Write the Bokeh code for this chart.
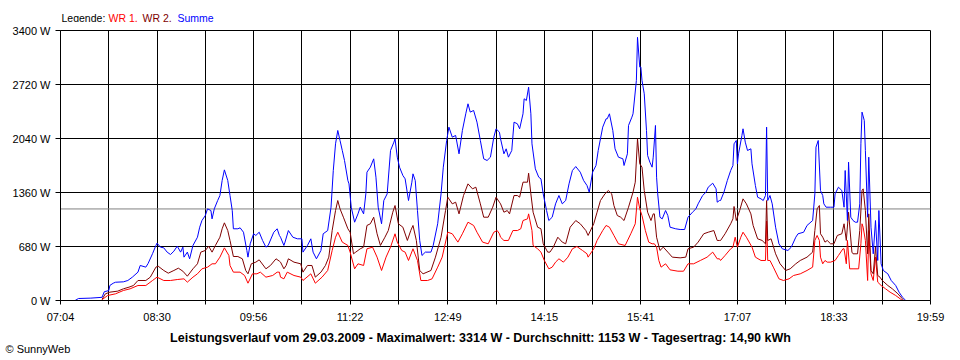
from bokeh.plotting import figure
from bokeh.layouts import column
from bokeh.models import FixedTicker, CustomJSTickFormatter, Span, Label, ColumnDataSource, Plot
from bokeh.embed import file_html
from bokeh.resources import INLINE

# ---------------- data ----------------
datum = "29.03.2009"
maximalwert = 3314
durchschnitt = 1153
tagesertrag = "14,90"

x_tick_labels = ["07:04", "08:30", "09:56", "11:22", "12:49", "14:15", "15:41", "17:07", "18:33", "19:59"]
y_tick_values = [0, 680, 1360, 2040, 2720, 3400]

summe = [
    ("07:17", 0), ("07:20", 25), ("07:31", 30), ("07:41", 40), ("07:43", 110), ("07:47", 125), ("07:48", 190),
    ("07:51", 218), ("07:53", 230), ("08:00", 235), ("08:04", 252), ("08:08", 294), ("08:13", 357), ("08:15", 441),
    ("08:20", 420), ("08:22", 465), ("08:26", 590), ("08:29", 693), ("08:30", 722), ("08:33", 672), ("08:36", 663),
    ("08:39", 609), ("08:42", 579), ("08:45", 621), ("08:48", 684), ("08:51", 609), ("08:53", 672), ("08:54", 546),
    ("08:57", 609), ("08:59", 525), ("09:02", 693), ("09:06", 797), ("09:08", 923), ("09:10", 1007), ("09:13", 1070),
    ("09:15", 1154), ("09:18", 1133), ("09:19", 1028), ("09:21", 1154), ("09:24", 1259), ("09:26", 1322),
    ("09:28", 1511), ("09:30", 1645), ("09:33", 1511), ("09:35", 1322), ("09:37", 1133), ("09:38", 903),
    ("09:42", 903), ("09:44", 915), ("09:47", 860), ("09:50", 630), ("09:51", 546), ("09:53", 714), ("09:56", 840),
    ("09:58", 819), ("10:01", 860), ("10:04", 756), ("10:07", 672), ("10:09", 693), ("10:14", 860), ("10:17", 903),
    ("10:19", 819),
    ("10:20", 797), ("10:23", 693), ("10:24", 735), ("10:27", 881), ("10:31", 797), ("10:35", 777), ("10:39", 777),
    ("10:40", 609), ("10:44", 693), ("10:47", 777), ("10:49", 609), ("10:52", 525), ("10:56", 630), ("10:58", 840),
    ("11:02", 881), ("11:05", 1175), ("11:07", 1637), ("11:09", 1973), ("11:11", 2141), ("11:13", 2015),
    ("11:15", 1889), ("11:17", 1763), ("11:20", 1511), ("11:21", 1469), ("11:23", 1175), ("11:26", 986),
    ("11:29", 1091), ("11:31", 1175), ("11:34", 1091), ("11:36", 1343), ("11:37", 1616), ("11:40", 1679),
    ("11:43", 1784), ("11:45", 1553), ("11:47", 1175), ("11:50", 966), ("11:52", 1259), ("11:55", 1343),
    ("11:58", 1889), ("12:01", 1994), ("12:02", 2036), ("12:04", 1805), ("12:06", 1679), ("12:09", 1574),
    ("12:11", 1532), ("12:14", 1259), ("12:17", 1490), ("12:18", 1595), ("12:20", 1511), ("12:22", 1133),
    ("12:24", 756), ("12:26", 567), ("12:29", 609), ("12:34", 609), ("12:36", 693), ("12:40", 966), ("12:43", 1343),
    ("12:45", 1679), ("12:48", 2015), ("12:50", 2183), ("12:53", 2057), ("12:56", 2078), ("12:59", 1847),
    ("13:02", 2141), ("13:05", 2351), ("13:07", 2477), ("13:09", 2372), ("13:12", 2393), ("13:15", 2246),
    ("13:18", 2015), ("13:21", 1784), ("13:24", 1763), ("13:27", 1805), ("13:30", 2057), ("13:32", 2162),
    ("13:35", 2120),
    ("13:36", 2036), ("13:39", 1847), ("13:41", 1910), ("13:43", 1805), ("13:46", 1889), ("13:48", 2246),
    ("13:51", 2225), ("13:53", 2162), ("13:56", 2351), ("13:57", 2540), ("13:59", 2519), ("14:01", 2686),
    ("14:03", 2351), ("14:04", 1973), ("14:07", 1658), ("14:10", 1553), ("14:12", 1532), ("14:14", 1343),
    ("14:17", 1133), ("14:19", 1007), ("14:22", 1049), ("14:25", 1217), ("14:28", 1322), ("14:31", 1217),
    ("14:34", 1259), ("14:37", 1469), ("14:40", 1637), ("14:43", 1687), ("14:47", 1616), ("14:50", 1511),
    ("14:53", 1448), ("14:55", 1364), ("14:58", 1616), ("15:01", 1700), ("15:03", 1889), ("15:07", 2183),
    ("15:10", 2288), ("15:11", 2288), ("15:13", 2351), ("15:16", 2141), ("15:18", 1910), ("15:21", 1805),
    ("15:25", 1784), ("15:26", 1700), ("15:29", 1847), ("15:30", 2204), ("15:33", 2309), ("15:34", 2351),
    ("15:37", 2771), ("15:38", 3314), ("15:40", 2939), ("15:41", 2939), ("15:42", 2771), ("15:44", 2603),
    ("15:46", 2141), ("15:47", 1826), ("15:49", 1742), ("15:51", 1679), ("15:52", 1805), ("15:54", 2204),
    ("15:55", 1553), ("15:56", 1343), ("15:58", 1049), ("16:00", 1028), ("16:03", 1133), ("16:05", 1070),
    ("16:07", 923), ("16:12", 903), ("16:16", 894), ("16:20", 894), ("16:23", 1049), ("16:27", 1112),
    ("16:30", 1154), ("16:32", 1217), ("16:36", 1322), ("16:39", 1364), ("16:41", 1427), ("16:45", 1477),
    ("16:48", 1406), ("16:49", 1238), ("16:51", 1259),
    ("16:52", 1259), ("16:55", 1364), ("16:58", 1511), ("17:01", 1637), ("17:03", 1700), ("17:04", 1973),
    ("17:06", 2015), ("17:07", 1721), ("17:08", 1847), ("17:11", 2078), ("17:12", 2162), ("17:14", 1994),
    ("17:16", 1889), ("17:19", 1910), ("17:20", 1721), ("17:23", 1448), ("17:25", 1301), ("17:28", 1280),
    ("17:30", 1259), ("17:32", 1322), ("17:33", 2183), ("17:34", 1259), ("17:36", 1322), ("17:38", 1217),
    ("17:41", 923), ("17:44", 714), ("17:47", 651), ("17:52", 630), ("17:55", 672), ("17:59", 797), ("18:01", 840),
    ("18:06", 860), ("18:09", 945), ("18:14", 1007), ("18:16", 1343), ("18:17", 1931), ("18:19", 2015),
    ("18:21", 1385), ("18:23", 1322), ("18:24", 1217), ("18:26", 1175), ("18:30", 1175), ("18:33", 1175),
    ("18:34", 1343), ("18:37", 1427), ("18:40", 1385), ("18:42", 1175), ("18:43", 1637), ("18:45", 1007),
    ("18:46", 1742), ("18:48", 1049), ("18:50", 1007), ("18:52", 986), ("18:54", 986), ("18:56", 1217),
    ("18:57", 1973), ("18:58", 2372), ("19:00", 2267), ("19:01", 1889), ("19:03", 1049), ("19:04", 1805),
    ("19:06", 923), ("19:08", 588), ("19:10", 1007), ("19:12", 504), ("19:13", 1133), ("19:15", 462),
    ("19:17", 378), ("19:21", 336), ("19:24", 252), ("19:28", 189), ("19:31", 105), ("19:34", 42), ("19:37", 0),
]

wr2 = [
    ("07:41", 15), ("07:44", 84), ("07:48", 105), ("07:55", 118), ("08:00", 147), ("08:05", 168), ("08:09", 189),
    ("08:13", 252), ("08:20", 252), ("08:24", 294), ("08:29", 420), ("08:31", 432), ("08:36", 378), ("08:40", 344),
    ("08:45", 378), ("08:49", 407), ("08:53", 369), ("08:57", 306), ("09:02", 399), ("09:06", 462), ("09:09", 609),
    ("09:13", 630), ("09:16", 684), ("09:19", 609), ("09:22", 693), ("09:26", 797), ("09:28", 903), ("09:30", 978),
    ("09:33", 881), ("09:35", 756), ("09:38", 554), ("09:42", 554), ("09:46", 525), ("09:49", 378), ("09:51", 336),
    ("09:54", 462), ("09:58", 483), ("10:01", 512), ("10:07", 399), ("10:11", 441), ("10:16", 525), ("10:19", 495),
    ("10:20", 483), ("10:23", 399), ("10:25", 441), ("10:27", 525), ("10:32", 483), ("10:38", 462), ("10:40", 357),
    ("10:44", 441), ("10:48", 441), ("10:51", 294), ("10:56", 357), ("11:00", 441), ("11:03", 546), ("11:06", 881),
    ("11:09", 1133), ("11:11", 1259), ("11:13", 1154), ("11:16", 1049), ("11:20", 903), ("11:22", 860),
    ("11:25", 588), ("11:27", 609), ("11:31", 651), ("11:34", 672), ("11:37", 945), ("11:40", 966), ("11:43", 1049),
    ("11:46", 840), ("11:49", 693), ("11:53", 797), ("11:56", 881), ("12:00", 1112), ("12:02", 1196), ("12:05", 966),
    ("12:09", 923), ("12:13", 756), ("12:16", 881), ("12:18", 945), ("12:21", 756), ("12:24", 378), ("12:27", 336),
    ("12:34", 378), ("12:38", 546), ("12:43", 797), ("12:47", 1133), ("12:49", 1301), ("12:53", 1217),
    ("12:56", 1238), ("12:59", 1091), ("13:03", 1322), ("13:07", 1469), ("13:11", 1406), ("13:14", 1427),
    ("13:18", 1217), ("13:21", 1049), ("13:25", 1049), ("13:29", 1175), ("13:32", 1301), ("13:35", 1238),
    ("13:36", 1217), ("13:39", 1112), ("13:42", 1133), ("13:44", 1091), ("13:48", 1322), ("13:51", 1322),
    ("13:53", 1301), ("13:56", 1490), ("14:00", 1490), ("14:01", 1603), ("14:03", 1343), ("14:05", 1112),
    ("14:09", 923), ("14:12", 903), ("14:14", 714), ("14:18", 609), ("14:20", 609), ("14:23", 672), ("14:27", 797),
    ("14:31", 735), ("14:34", 714), ("14:38", 923), ("14:43", 1007), ("14:47", 966), ("14:52", 881), ("14:54", 819),
    ("14:59", 966), ("15:02", 1112), ("15:05", 1259), ("15:09", 1343), ("15:12", 1385), ("15:15", 1343),
    ("15:17", 1196), ("15:20", 1070), ("15:23", 1049), ("15:26", 1007), ("15:30", 1175), ("15:34", 1364),
    ("15:36", 1490), ("15:38", 2036), ("15:40", 1721), ("15:42", 1679), ("15:44", 1385), ("15:47", 1112),
    ("15:50", 1007), ("15:52", 1091), ("15:53", 1091), ("15:55", 797), ("15:58", 630), ("16:01", 672),
    ("16:05", 609), ("16:09", 546), ("16:16", 537), ("16:21", 546), ("16:23", 651), ("16:28", 672), ("16:32", 735),
    ("16:37", 840), ("16:41", 860), ("16:46", 881), ("16:49", 756), ("16:51", 756),
    ("16:52", 756), ("16:56", 840), ("17:01", 966), ("17:03", 1028), ("17:04", 1184), ("17:06", 1007),
    ("17:09", 1133), ("17:12", 1280), ("17:15", 1217), ("17:19", 1091), ("17:21", 945), ("17:25", 777),
    ("17:29", 756), ("17:32", 714), ("17:33", 1259), ("17:34", 756), ("17:37", 777), ("17:41", 588), ("17:45", 462),
    ("17:50", 378), ("17:54", 399), ("17:59", 462), ("18:03", 504), ("18:09", 546), ("18:14", 609), ("18:16", 881),
    ("18:18", 1154), ("18:20", 1196), ("18:21", 840), ("18:23", 798), ("18:25", 735), ("18:27", 756),
    ("18:30", 714), ("18:33", 714), ("18:36", 819), ("18:40", 840), ("18:42", 966), ("18:44", 756),
    ("18:46", 1112), ("18:49", 609), ("18:50", 588), ("18:54", 588), ("18:56", 881), ("18:58", 1385),
    ("18:59", 1406), ("19:01", 1133), ("19:03", 588), ("19:04", 1091), ("19:06", 378), ("19:08", 336),
    ("19:10", 672), ("19:12", 315), ("19:14", 294), ("19:16", 252), ("19:21", 189), ("19:25", 147), ("19:30", 84),
    ("19:34", 21), ("19:35", 0),
]

wr1 = [
    ("07:41", 10), ("07:46", 63), ("07:53", 84), ("08:00", 126), ("08:06", 147), ("08:13", 189), ("08:20", 189),
    ("08:26", 252), ("08:30", 294), ("08:36", 252), ("08:42", 252), ("08:48", 264), ("08:54", 273), ("08:57", 231),
    ("09:02", 294), ("09:06", 336), ("09:10", 399), ("09:15", 420), ("09:19", 462), ("09:22", 462), ("09:26", 546),
    ("09:30", 663), ("09:34", 567), ("09:35", 441), ("09:38", 357), ("09:44", 357), ("09:48", 315), ("09:51", 218),
    ("09:55", 336), ("09:59", 336), ("10:02", 357), ("10:07", 294), ("10:13", 315), ("10:17", 357), ("10:19", 357),
    ("10:20", 294), ("10:23", 273), ("10:26", 357), ("10:32", 315), ("10:38", 294), ("10:40", 252), ("10:47", 336),
    ("10:51", 218), ("10:57", 294), ("11:02", 378), ("11:06", 630), ("11:09", 797), ("11:11", 860), ("11:15", 735),
    ("11:20", 693), ("11:22", 609), ("11:26", 399), ("11:29", 462), ("11:34", 441), ("11:37", 651), ("11:42", 672),
    ("11:46", 546), ("11:50", 378), ("11:54", 546), ("11:58", 672), ("12:02", 840), ("12:04", 735), ("12:08", 630),
    ("12:11", 609), ("12:14", 504), ("12:18", 651), ("12:22", 504), ("12:25", 252), ("12:31", 252), ("12:35", 273),
    ("12:40", 420), ("12:44", 546), ("12:49", 860), ("12:53", 840), ("12:58", 735), ("13:02", 840), ("13:07", 986),
    ("13:12", 945), ("13:15", 860), ("13:20", 735), ("13:25", 714), ("13:30", 860), ("13:33", 881), ("13:35", 840),
    ("13:36", 797), ("13:39", 756), ("13:43", 756), ("13:47", 881), ("13:51", 881), ("13:54", 903), ("13:56", 1007),
    ("14:00", 1028), ("14:01", 1091), ("14:04", 881), ("14:05", 693), ("14:09", 651), ("14:12", 609), ("14:15", 504),
    ("14:19", 399), ("14:22", 420), ("14:25", 483), ("14:28", 525), ("14:32", 483), ("14:36", 546), ("14:40", 651),
    ("14:44", 680), ("14:49", 630), ("14:53", 588), ("14:54", 546), ("14:59", 651), ("15:02", 756), ("15:07", 881),
    ("15:10", 945), ("15:13", 923), ("15:17", 819), ("15:21", 714), ("15:27", 693), ("15:32", 840), ("15:36", 966),
    ("15:38", 1301), ("15:40", 1154), ("15:42", 1070), ("15:45", 881), ("15:48", 735), ("15:51", 714),
    ("15:53", 714), ("15:55", 672), ("15:57", 504), ("15:59", 420), ("16:03", 462), ("16:07", 386), ("16:14", 369),
    ("16:19", 369), ("16:23", 462), ("16:28", 462), ("16:34", 504), ("16:40", 546), ("16:45", 609), ("16:49", 525),
    ("16:51", 525),
    ("16:52", 504), ("16:56", 567), ("17:01", 651), ("17:03", 672), ("17:05", 797), ("17:07", 672), ("17:10", 797),
    ("17:12", 860), ("17:15", 797), ("17:20", 672), ("17:23", 546), ("17:28", 504), ("17:32", 504), ("17:33", 1000),
    ("17:34", 504), ("17:36", 504), ("17:39", 420), ("17:44", 273), ("17:48", 252), ("17:53", 273), ("17:57", 315),
    ("18:03", 336), ("18:09", 378), ("18:14", 420), ("18:16", 756), ("18:18", 819), ("18:20", 756), ("18:21", 546),
    ("18:23", 462), ("18:25", 504), ("18:27", 483), ("18:30", 483), ("18:34", 504), ("18:37", 567), ("18:41", 651),
    ("18:42", 651), ("18:44", 462), ("18:45", 756), ("18:47", 399), ("18:50", 399), ("18:55", 399), ("18:57", 714),
    ("18:58", 966), ("18:59", 923), ("19:01", 756), ("19:03", 252), ("19:04", 881), ("19:06", 336), ("19:08", 252),
    ("19:10", 546), ("19:12", 231), ("19:15", 189), ("19:19", 147), ("19:23", 105), ("19:28", 63), ("19:32", 21),
    ("19:34", 0),
]


# ---------------- helpers ----------------
def to_min(s):
    h, m = s.split(":")
    return int(h) * 60 + int(m)


def source(series):
    return ColumnDataSource(dict(t=[to_min(a) for a, _ in series], w=[b for _, b in series]))


HAS_FRAME_ALIGN = "frame_align" in Plot.properties()


def text_strip(height):
    """A figure without axes whose frame fills the whole canvas, used for free text."""
    f = figure(width=W, height=height, output_backend="svg", toolbar_location=None,
               x_range=(0, W), y_range=(0, height), x_axis_location=None, y_axis_location=None,
               min_border_left=0, min_border_right=0, min_border_top=0, min_border_bottom=0)
    f.grid.visible = False
    f.outline_line_color = None
    f.background_fill_color = "white"
    f.border_fill_color = "white"
    if HAS_FRAME_ALIGN:
        f.frame_align = False
    return f


FONT = "Liberation Sans"
W = 960
HEAD_H, MAIN_H, FOOT_H = 22, 304, 34          # page rows 0-22, 22-326, 326-360
LEFT, RIGHT, TOP, BOTTOM = 60, 30, 8, 26       # main frame: page x 60-930, y 30-300

x_major = [to_min(s) for s in x_tick_labels]
x_minor = [(a + b) / 2 for a, b in zip(x_major[:-1], x_major[1:])]

p = figure(width=W, height=MAIN_H, output_backend="svg", toolbar_location=None,
           x_range=(x_major[0], x_major[-1]), y_range=(y_tick_values[0], y_tick_values[-1]),
           min_border_left=LEFT, min_border_right=RIGHT, min_border_top=TOP, min_border_bottom=BOTTOM)
p.background_fill_color = "white"
p.border_fill_color = "white"
p.outline_line_color = "black"
if HAS_FRAME_ALIGN:
    p.frame_align = False

# x axis
xt = FixedTicker(ticks=x_major, minor_ticks=x_minor)
p.xaxis.ticker = xt
p.xaxis.formatter = CustomJSTickFormatter(code="""
const h = Math.floor(tick / 60); const m = Math.round(tick - h * 60);
return (h < 10 ? '0' : '') + h + ':' + (m < 10 ? '0' : '') + m;
""")
p.xaxis.major_tick_in = 0
p.xaxis.major_tick_out = 4
p.xaxis.minor_tick_in = 0
p.xaxis.minor_tick_out = 4
p.xaxis.major_label_standoff = 6
p.xgrid.ticker = xt
p.xgrid.grid_line_color = "black"
p.xgrid.minor_grid_line_color = "black"

# y axis
yt = FixedTicker(ticks=y_tick_values)
p.yaxis.ticker = yt
p.yaxis.major_label_overrides = {v: f"{v} W" for v in y_tick_values}
p.yaxis.major_tick_in = 0
p.yaxis.major_tick_out = 5
p.yaxis.minor_tick_line_color = None
p.yaxis.major_label_standoff = 5
p.ygrid.ticker = yt
p.ygrid.grid_line_color = "black"

for ax in (p.xaxis[0], p.yaxis[0]):
    ax.axis_line_color = "black"
    ax.major_tick_line_color = "black"
    ax.major_label_text_font = FONT
    ax.major_label_text_font_size = "11px"
    ax.major_label_text_color = "black"
p.xaxis.minor_tick_line_color = "black"

p.add_layout(Span(location=durchschnitt, dimension="width", line_color="#808080",
                  line_width=1, level="underlay"))

p.line("t", "w", source=source(wr1), line_color="#ff0000", line_width=1)
p.line("t", "w", source=source(wr2), line_color="#800000", line_width=1)
p.line("t", "w", source=source(summe), line_color="#0000ff", line_width=1)

# ---- header: coloured legend line ----
head = text_strip(HEAD_H)
legend_parts = [("Legende:", "black", 61), ("WR 1,", "#ff0000", 108), ("WR 2,", "#800000", 142),
                ("Summe", "#0000ff", 177)]
for txt, col, xpage in legend_parts:
    head.add_layout(Label(x=xpage, y=HEAD_H - 17, text=txt, text_color=col, text_font=FONT,
                          text_font_size="10.5px", text_baseline="middle", text_align="left"))

# ---- footer: summary line and copyright ----
foot = text_strip(FOOT_H)
title = (f"Leistungsverlauf vom {datum} - Maximalwert: {maximalwert} W - "
         f"Durchschnitt: {durchschnitt} W - Tagesertrag: {tagesertrag} kWh")
foot.add_layout(Label(x=480, y=FOOT_H - 11, text=title, text_color="black", text_font=FONT,
                      text_font_size="12.5px", text_font_style="bold",
                      text_baseline="middle", text_align="center"))
foot.add_layout(Label(x=5, y=FOOT_H - 22, text="© SunnyWeb", text_color="black", text_font=FONT,
                      text_font_size="11px", text_baseline="middle", text_align="left"))

layout = column(head, p, foot, spacing=0)
open("out.html", "w").write(file_html(layout, INLINE))
